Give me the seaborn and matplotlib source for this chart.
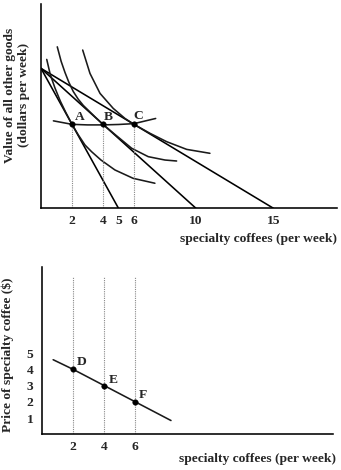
import matplotlib
matplotlib.use("Agg")
import matplotlib.pyplot as plt
import seaborn as sns
import pandas as pd

# ---------------- data ----------------
income = 10
budget_x_intercepts = [5, 10, 15]

ic1_x = [0.37, 0.6, 0.9, 1.25, 1.6, 2.0, 2.41, 2.84, 3.27, 3.87, 4.77, 5.95, 7.35]
ic1_y = [10.64, 9.55, 8.6, 7.65, 6.85, 6.0, 5.24, 4.52, 4.04, 3.45, 2.74, 2.14, 1.79]

ic2_x = [1.05, 1.3, 1.55, 1.8, 2.08, 2.4, 2.73, 3.1, 3.5, 4.0, 4.77, 5.85, 6.92, 8.0, 8.75]
ic2_y = [11.54, 10.5, 9.7, 9.0, 8.35, 7.8, 7.35, 6.95, 6.52, 6.0, 5.28, 4.29, 3.69, 3.45, 3.38]

ic3_x = [2.69, 3.16, 3.81, 4.66, 5.42, 6.0, 7.03, 8.11, 9.4, 10.9]
ic3_y = [11.31, 9.64, 8.21, 7.14, 6.42, 6.0, 5.36, 4.76, 4.21, 3.93]

pcc_x = [0.8, 2, 3, 4, 5, 6, 7.4]
pcc_y = [6.25, 6.0, 5.96, 5.96, 5.99, 6.05, 6.42]

abc_labels = ["A", "B", "C"]
abc_x = [2, 4, 6]
abc_y = [6, 6, 6]

top_tick_labels = [2, 4, 5, 6, 10, 15]

demand_x = [0.7, 2, 4, 6, 8.3]
demand_y = [4.6, 4, 3, 2, 0.85]

def_labels = ["D", "E", "F"]
def_x = [2, 4, 6]
def_y = [4, 3, 2]
bottom_guide_top = 9.7
bottom_yticks = [1, 2, 3, 4, 5]

# ---------------- style ----------------
sns.set_theme(style="white")
plt.rcParams["font.family"] = ["Liberation Serif", "DejaVu Serif"]
plt.rcParams["font.weight"] = "bold"
plt.rcParams["axes.labelweight"] = "bold"

fig = plt.figure(figsize=(3.41, 4.70), dpi=100)
ax1 = fig.add_axes([41 / 341, 1 - 208.3 / 470, 296 / 341, 204.3 / 470])
ax2 = fig.add_axes([42.3 / 341, 1 - 434.3 / 470, 290.7 / 341, 167 / 470])

LW = 1.15
FS = 9.7
LINE = "#1a1a1a"

# ---------------- top panel ----------------
for xi in budget_x_intercepts:
    df = pd.DataFrame({"x": [0, xi], "y": [income, 0]})
    sns.lineplot(data=df, x="x", y="y", ax=ax1, color="black", lw=LW, sort=False)

for xs, ys in [(ic1_x, ic1_y), (ic2_x, ic2_y), (ic3_x, ic3_y)]:
    sns.lineplot(x=xs, y=ys, ax=ax1, color=LINE, lw=LW, sort=False)

sns.lineplot(x=pcc_x, y=pcc_y, ax=ax1, color=LINE, lw=LW, sort=False)

ax1.vlines(abc_x, 0, abc_y, colors="#888888", linestyles=(0, (1, 1)), lw=0.8)
sns.scatterplot(x=abc_x, y=abc_y, ax=ax1, color="black", s=16, edgecolor="black", zorder=5)
abc_offsets = [(5.3, 5.5), (4.1, 5.3), (3.1, 6.3)]
for lab, x, y, off in zip(abc_labels, abc_x, abc_y, abc_offsets):
    ax1.annotate(lab, (x, y), xytext=off, textcoords="offset points",
                 ha="center", va="center", fontsize=FS, fontweight="bold")

ax1.set_xlim(0, 19.1)
ax1.set_ylim(0, 14.6)
ax1.set_xticks(top_tick_labels)
ax1.set_xticklabels([str(t) for t in top_tick_labels])
ax1.set_xticks(abc_x, minor=True)
ax1.set_yticks([])
ax1.tick_params(axis="x", which="major", length=0, pad=4.6, labelsize=FS)
ax1.tick_params(axis="x", which="minor", direction="in", length=5, width=1.2, color="black")
ax1.set_xlabel("specialty coffees (per week)", fontsize=FS, fontweight="bold")
ax1.xaxis.set_label_coords(0.736, -0.12)
ax1.set_ylabel("Value of all other goods\n(dollars per week)", fontsize=FS,
               fontweight="bold", linespacing=1.15)
ax1.yaxis.set_label_coords(-0.038, 0.555)

# ---------------- bottom panel ----------------
ax2.vlines(def_x, 0, bottom_guide_top, colors="#888888", linestyles=(0, (1, 1)), lw=0.8)
sns.lineplot(x=demand_x, y=demand_y, ax=ax2, color=LINE, lw=LW, sort=False)
sns.scatterplot(x=def_x, y=def_y, ax=ax2, color="black", s=16, edgecolor="black", zorder=5)
def_offsets = [(6, 5.3), (6.5, 4), (5.8, 5.3)]
for lab, x, y, off in zip(def_labels, def_x, def_y, def_offsets):
    ax2.annotate(lab, (x, y), xytext=off, textcoords="offset points",
                 ha="center", va="center", fontsize=FS, fontweight="bold")

ax2.set_xlim(0, 18.75)
ax2.set_ylim(0, 10.3)
ax2.set_xticks(def_x)
ax2.set_yticks(bottom_yticks)
ax2.tick_params(axis="x", direction="in", length=5.5, width=1.2, pad=5.0, labelsize=FS, color="black")
ax2.tick_params(axis="y", direction="in", length=6.5, width=1.2, pad=6.5, labelsize=FS, color="black")
ax2.set_xlabel("specialty coffees (per week)", fontsize=FS, fontweight="bold")
ax2.xaxis.set_label_coords(0.741, -0.112)
ax2.set_ylabel("Price of specialty coffee (\\$)", fontsize=FS, fontweight="bold")
ax2.yaxis.set_label_coords(-0.096, 0.475)

for ax in (ax1, ax2):
    for s in ("top", "right"):
        ax.spines[s].set_visible(False)
    for s in ("left", "bottom"):
        ax.spines[s].set_color("black")
        ax.spines[s].set_linewidth(1.15)
    for lbl in ax.get_xticklabels() + ax.get_yticklabels():
        lbl.set_fontweight("bold")

fig.savefig("out.png", dpi=100)
